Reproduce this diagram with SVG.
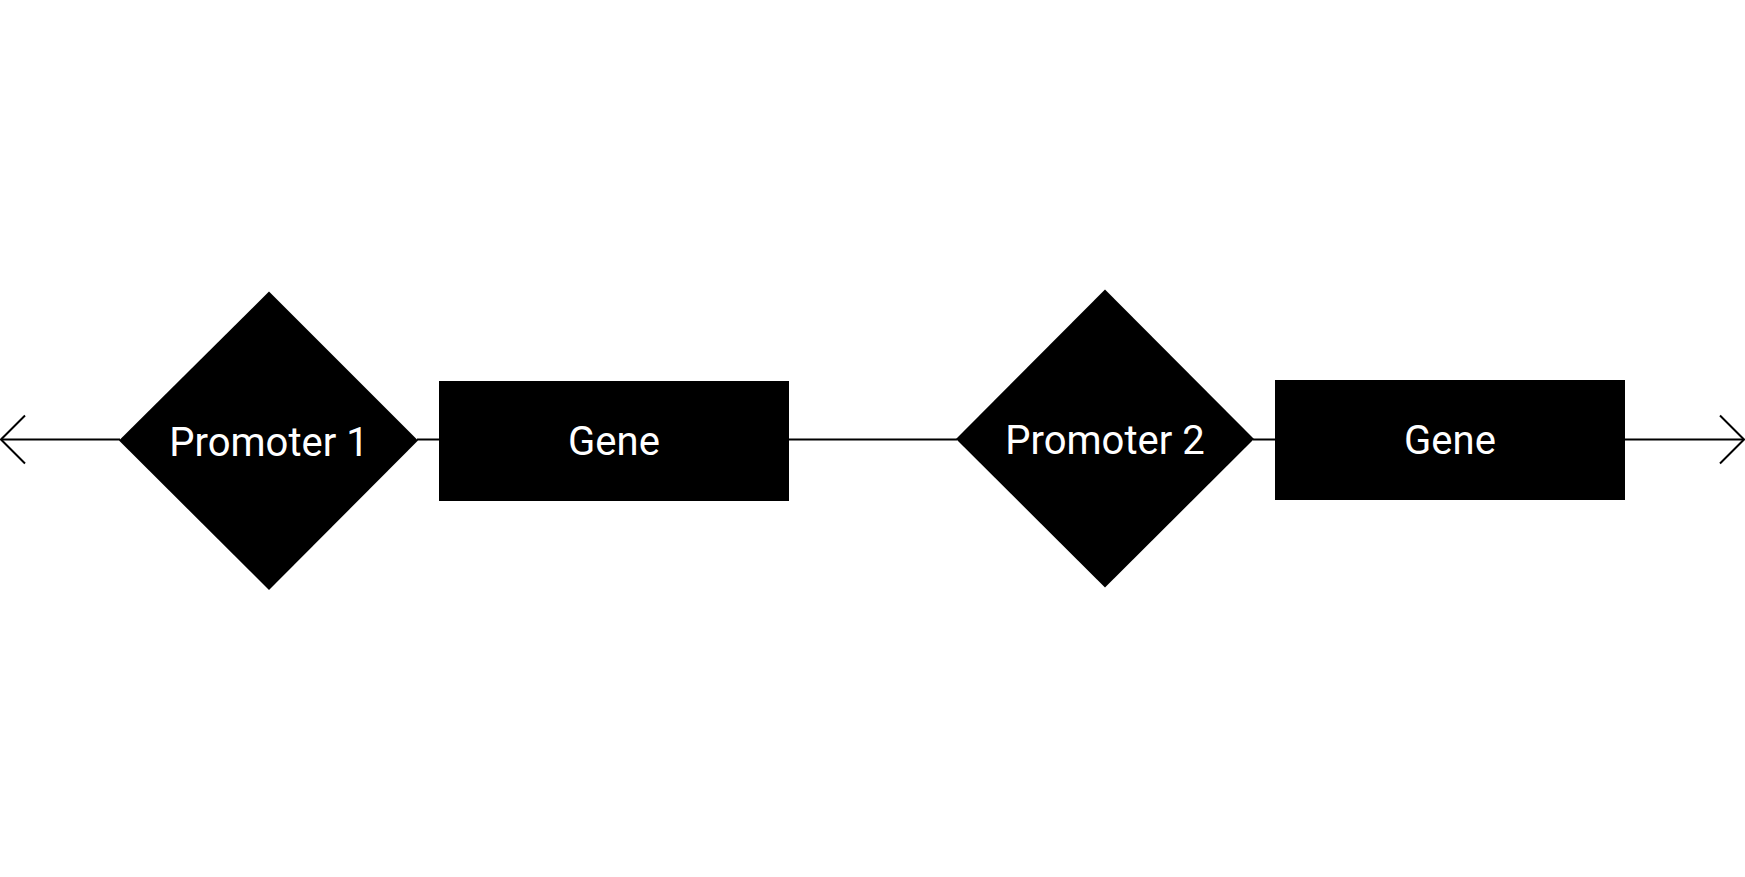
<svg xmlns="http://www.w3.org/2000/svg" width="1745" height="877" viewBox="0 0 1745 877">
<style>
.shape{fill:#000;}
.lbl{fill:#fff;font-family:Roboto,"Liberation Sans",sans-serif;font-size:40px;text-anchor:middle;}
.conn{stroke:#000;stroke-width:2;fill:none;}
</style>
<defs>
<marker id="arr" viewBox="0 0 30 60" refX="27" refY="30" markerWidth="30" markerHeight="60" markerUnits="userSpaceOnUse" orient="auto">
<path d="M3,6 L27,30 L3,54" fill="none" stroke="#000" stroke-width="2"/>
</marker>
</defs>
<rect width="1745" height="877" fill="#fff"/>
<g id="connectors">
<line class="conn" x1="120" y1="439.5" x2="1" y2="439.5" marker-end="url(#arr)"/>
<line class="conn" x1="417" y1="439.5" x2="440" y2="439.5"/>
<line class="conn" x1="788" y1="439.5" x2="957" y2="439.5"/>
<line class="conn" x1="1253" y1="439.5" x2="1276" y2="439.5"/>
<line class="conn" x1="1624" y1="439.5" x2="1744" y2="439.5" marker-end="url(#arr)"/>
</g>
<g id="promoter1">
<polygon class="shape" points="269,291.5 418,440.5 269,590 119,440.5"/>
<text class="lbl" x="269" y="456">Promoter 1</text>
</g>
<g id="gene1">
<rect class="shape" x="439" y="381" width="350" height="120"/>
<text class="lbl" x="614" y="455">Gene</text>
</g>
<g id="promoter2">
<polygon class="shape" points="1105,289.5 1254,439 1105,587.5 956,439"/>
<text class="lbl" x="1105" y="454">Promoter 2</text>
</g>
<g id="gene2">
<rect class="shape" x="1275" y="380" width="350" height="120"/>
<text class="lbl" x="1450" y="454">Gene</text>
</g>
</svg>
